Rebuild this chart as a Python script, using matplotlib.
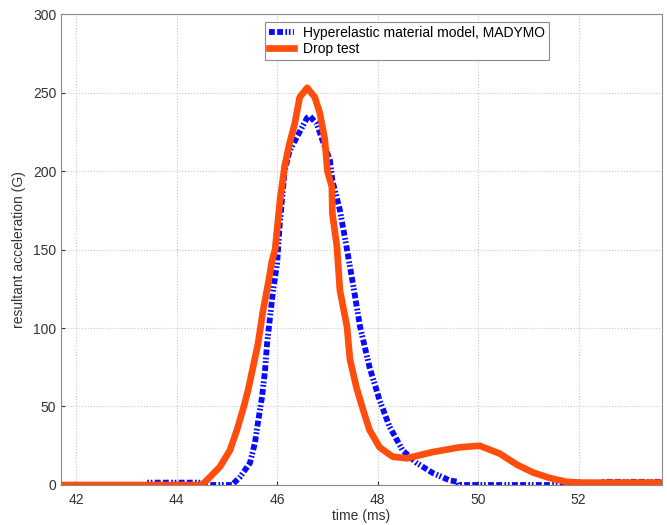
import numpy as np
import matplotlib
matplotlib.use("Agg")
import matplotlib.pyplot as plt

plt.rcParams['font.family'] = ['Liberation Sans', 'DejaVu Sans']

# drop test curve
drop_t = [41.7, 44.5, 44.6, 44.86, 45.06, 45.2, 45.32, 45.42, 45.52, 45.62, 45.72,
          45.82, 45.9, 45.96, 46.06, 46.15, 46.25, 46.35, 46.45, 46.6, 46.75, 46.85,
          46.95, 47.0, 47.09, 47.1, 47.19, 47.25, 47.39, 47.45, 47.58, 47.71, 47.84,
          48.04, 48.3, 48.58, 49.1, 49.63, 50.03, 50.43, 50.77, 51.09, 51.42, 51.76,
          52.08, 53.7]
drop_g = [0, 0, 3, 11.5, 22, 35, 48, 60, 75, 90, 111,
          128, 143, 150, 182, 203, 218, 230, 247, 253, 247, 237,
          220, 200, 190, 173, 152, 124, 101, 80, 62, 48, 35,
          24, 18, 17, 21, 24, 25, 20, 13, 8, 4.5, 2,
          1.5, 1.5]

# MADYMO hyperelastic model
mad_t = [41.7, 43.4, 43.41, 44.5, 44.6, 45.1, 45.26, 45.46, 45.56, 45.62, 45.7,
         45.76, 45.8, 45.86, 45.92, 46.0, 46.05, 46.15, 46.25, 46.4, 46.6, 46.65,
         46.79, 46.92, 47.05, 47.1, 47.25, 47.38, 47.51, 47.65, 47.84, 48.04, 48.24,
         48.5, 48.78, 49.1, 49.43, 49.6, 49.62, 52.4, 52.5, 53.7]
mad_g = [0, 0, 1.5, 1.5, 0, 0, 5, 14, 27, 40, 56,
         73, 90, 107, 124, 141, 165, 200, 213, 222, 234, 235,
         230, 218, 207, 194, 175, 152, 128, 101, 75, 54, 37,
         22, 14, 7.6, 3, 2, 0, 0, 2, 2]

xticks = [42, 44, 46, 48, 50, 52]
yticks = [0, 50, 100, 150, 200, 250, 300]

fig = plt.figure(figsize=(6.67, 5.25), dpi=100)
ax = fig.add_axes([0.0915, 0.0762, 0.901, 0.8971])

ax.plot(mad_t, mad_g, color='#0a0aff', lw=4.2,
        dashes=(1.0, 0.4, 1.0, 0.4, 0.3, 0.3, 0.3, 0.4),
        label='Hyperelastic material model, MADYMO', zorder=2)
ax.plot(drop_t, drop_g, color='#ff4d0d', lw=4.8, label='Drop test', zorder=3)

ax.set_xlim(41.7, 53.66)
ax.set_ylim(0, 300)
ax.set_xticks(xticks)
ax.set_yticks(yticks)
ax.grid(True, color='#c8c8c8', linestyle=':', linewidth=0.8)
ax.tick_params(direction='in', length=3, labelsize=10, colors='#333333',
               top=False, right=False)
ax.tick_params(axis='x', pad=6)
for s in ax.spines.values():
    s.set_color('#8a8a8a')
    s.set_linewidth(0.8)

ax.set_xlabel('time (ms)', fontsize=10, color='#333333', labelpad=1)
ax.set_ylabel('resultant acceleration (G)', fontsize=10, color='#333333', labelpad=5)

leg = ax.legend(loc='upper left', bbox_to_anchor=(0.339, 0.983), fontsize=10,
                fancybox=False, framealpha=1, edgecolor='#8a8a8a',
                borderpad=0.3, labelspacing=0.15, handlelength=1.8,
                handletextpad=0.65, borderaxespad=0)
leg.get_frame().set_linewidth(0.8)

fig.savefig('out.png', dpi=100)
